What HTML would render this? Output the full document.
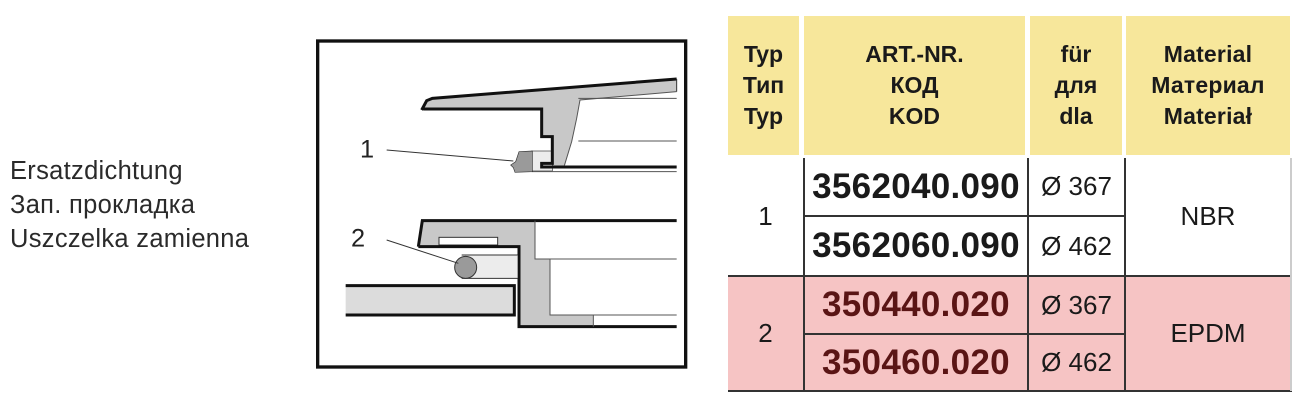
<!DOCTYPE html>
<html><head><meta charset="utf-8"><style>
body{margin:0;width:1306px;height:411px;background:#fff;position:relative;overflow:hidden;font-family:"Liberation Sans",sans-serif}
.a{position:absolute}
.lt{left:10px;top:154px;font-size:25.5px;line-height:34px;color:#2a2a2a;letter-spacing:0.3px}
.h{position:absolute;background:#f7e79b;top:16px;height:139px;display:flex;align-items:center;justify-content:center;text-align:center;font-weight:bold;font-size:23px;line-height:31px;color:#1a1a1a}
.c{position:absolute;display:flex;align-items:center;justify-content:center;text-align:center;color:#1a1a1a}
.code{font-weight:bold;font-size:35px;letter-spacing:0.3px}
.d{font-size:26px}
.ln{position:absolute;background:#333}
</style></head><body>
<div class="a lt">Ersatzdichtung<br>Зап. прокладка<br>Uszczelka zamienna</div>

<svg class="a" style="left:315px;top:35px" width="380" height="360" viewBox="0 0 1140 1080">
<rect x="8" y="18" width="1104" height="978" fill="none" stroke="#111" stroke-width="10"/>
<polygon points="320,225 335,197 352,190 1085,132 1085,170 795,195 785,250 770,320 748,392 680,392 680,385 712,385 712,305 680,305 680,222" fill="#c8c8c8"/>
<rect x="650" y="348" width="62" height="60" fill="#ececec" stroke="#333" stroke-width="2"/>
<polyline points="320,225 335,197 352,190 1085,132" fill="none" stroke="#111" stroke-width="9"/>
<polyline points="325,222 680,222 680,305 712,305 712,385 680,385 680,396 1085,396" fill="none" stroke="#111" stroke-width="9"/>
<line x1="1085" y1="132" x2="1085" y2="170" stroke="#333" stroke-width="3"/>
<polyline points="1085,170 795,195 785,250 770,320 748,392" fill="none" stroke="#555" stroke-width="3"/>
<line x1="790" y1="190" x2="1085" y2="190" stroke="#555" stroke-width="3"/>
<line x1="790" y1="318" x2="1085" y2="318" stroke="#555" stroke-width="3"/>
<line x1="650" y1="410" x2="1085" y2="410" stroke="#555" stroke-width="3"/>
<polygon points="612,350 652,348 652,410 600,412 595,398 587,390 602,380" fill="#9a9a9a" stroke="#333" stroke-width="2"/>
<line x1="215" y1="345" x2="595" y2="378" stroke="#333" stroke-width="3"/>
<text x="135" y="368" font-family="Liberation Sans" font-size="76" fill="#222">1</text>
<polygon points="322,557 660,557 660,672 705,672 705,840 835,840 835,875 612,875 612,635 310,635" fill="#c8c8c8"/>
<rect x="372" y="607" width="176" height="23" fill="#fff" stroke="#333" stroke-width="3"/>
<polyline points="310,635 322,557 1085,557" fill="none" stroke="#111" stroke-width="9"/>
<polyline points="310,635 612,635 612,875 1085,875" fill="none" stroke="#111" stroke-width="9"/>
<polyline points="660,557 660,672 1085,672" fill="none" stroke="#555" stroke-width="3"/>
<polyline points="705,672 705,840 1085,840" fill="none" stroke="#555" stroke-width="3"/>
<line x1="835" y1="840" x2="835" y2="875" stroke="#555" stroke-width="3"/>
<rect x="440" y="660" width="168" height="70" fill="#ececec"/>
<line x1="440" y1="660" x2="608" y2="660" stroke="#333" stroke-width="3"/>
<line x1="440" y1="730" x2="608" y2="730" stroke="#333" stroke-width="3"/>
<circle cx="452" cy="697" r="33" fill="#9a9a9a" stroke="#333" stroke-width="3"/>
<rect x="92" y="752" width="504" height="88" fill="#dcdcdc"/>
<polyline points="92,752 598,752 598,840 92,840" fill="none" stroke="#111" stroke-width="9"/>
<line x1="215" y1="615" x2="430" y2="685" stroke="#333" stroke-width="3"/>
<text x="108" y="634" font-family="Liberation Sans" font-size="76" fill="#222">2</text>
</svg>

<div class="h" style="left:728px;width:71px">Typ<br>Тип<br>Typ</div>
<div class="h" style="left:804px;width:221px">ART.-NR.<br>КОД<br>KOD</div>
<div class="h" style="left:1030px;width:92px">für<br>для<br>dla</div>
<div class="h" style="left:1126px;width:164px;letter-spacing:0.2px">Material<br>Материал<br>Materiał</div>
<div class="a" style="left:728px;top:275px;width:562px;height:116px;background:#f6c4c4"></div>
<div class="ln" style="left:728px;top:275px;width:562px;height:2px"></div>
<div class="ln" style="left:728px;top:390px;width:564px;height:2px"></div>
<div class="ln" style="left:803px;top:158px;width:2px;height:233px"></div>
<div class="ln" style="left:1027px;top:158px;width:2px;height:233px"></div>
<div class="ln" style="left:1124px;top:158px;width:2px;height:233px"></div>
<div class="ln" style="left:1290px;top:158px;width:2px;height:233px;background:#ccc"></div>
<div class="ln" style="left:805px;top:215px;width:319px;height:2px"></div>
<div class="ln" style="left:805px;top:333px;width:319px;height:2px"></div>
<div class="c d" style="left:728px;top:158px;width:75px;height:117px">1</div>
<div class="c d" style="left:728px;top:277px;width:75px;height:113px">2</div>
<div class="c d" style="left:1126px;top:158px;width:164px;height:117px">NBR</div>
<div class="c d" style="left:1126px;top:277px;width:164px;height:113px">EPDM</div>
<div class="c code" style="left:805px;top:158px;width:222px;height:57px">3562040.090</div>
<div class="c code" style="left:805px;top:217px;width:222px;height:58px">3562060.090</div>
<div class="c code" style="left:805px;top:277px;width:222px;height:56px;color:#5a1515">350440.020</div>
<div class="c code" style="left:805px;top:335px;width:222px;height:55px;color:#5a1515">350460.020</div>
<div class="c d" style="left:1029px;top:158px;width:95px;height:57px">Ø 367</div>
<div class="c d" style="left:1029px;top:217px;width:95px;height:58px">Ø 462</div>
<div class="c d" style="left:1029px;top:277px;width:95px;height:56px">Ø 367</div>
<div class="c d" style="left:1029px;top:335px;width:95px;height:55px">Ø 462</div>
</body></html>
